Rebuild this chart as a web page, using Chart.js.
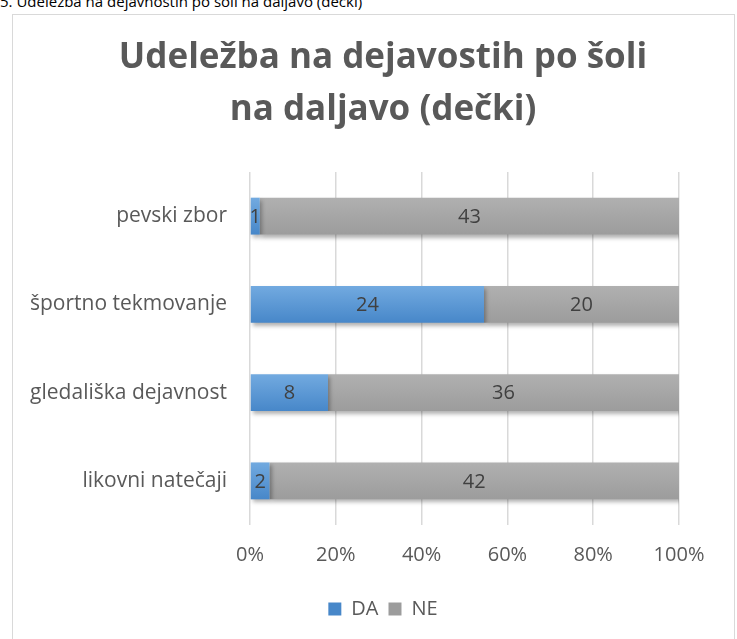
<!DOCTYPE html>
<html><head><meta charset="utf-8">
<script src="https://cdn.jsdelivr.net/npm/chart.js@4.4.1/dist/chart.umd.min.js"></script>
<style>
html,body{margin:0;padding:0;background:#fff;width:737px;height:639px;overflow:hidden;}
#cap{position:absolute;left:0;top:-9px;font:15px 'Open Sans',sans-serif;color:#000;white-space:nowrap;}
#box{position:absolute;left:12px;top:14px;width:721px;height:700px;border:1px solid #d9d9d9;}
#wrap{position:absolute;left:0;top:0;width:737px;height:639px;}
</style></head><body>
<div id="cap">5. Udeležba na dejavnostih po šoli na daljavo (dečki)</div>
<div id="box"></div>
<div id="wrap"><canvas id="c" width="737" height="639"></canvas></div>
<script>
const categories = ['pevski zbor', 'športno tekmovanje', 'gledališka dejavnost', 'likovni natečaji'];
const daValues = [1, 24, 8, 2];
const neValues = [43, 20, 36, 42];
const xTickLabels = ['0%', '20%', '40%', '60%', '80%', '100%'];
const seriesNames = ['DA', 'NE'];
const titleLines = ['Udeležba na dejavostih po šoli', 'na daljavo (dečki)'];

const FONT = "'Open Sans', sans-serif";
const totals = categories.map((_, i) => daValues[i] + neValues[i]);
const daPct = daValues.map((v, i) => v / totals[i] * 100);
const nePct = neValues.map((v, i) => v / totals[i] * 100);

const CAT_PCT = 0.418;
function barFill(top, bottom, solid) {
  return function (ctx) {
    if (ctx.type !== 'data' || !ctx.chart.scales || !ctx.chart.scales.y) return solid;
    const ys = ctx.chart.scales.y;
    const c = ys.getPixelForValue(ctx.dataIndex);
    const h = (ys.height / categories.length) * CAT_PCT / 2;
    if (!isFinite(c) || !isFinite(h) || h <= 0) return solid;
    const g = ctx.chart.ctx.createLinearGradient(0, c - h, 0, c + h);
    g.addColorStop(0, top);
    g.addColorStop(1, bottom);
    return g;
  };
}

const shadowPlugin = {
  id: 'barShadow',
  beforeDatasetsDraw(chart) {
    const c = chart.ctx;
    c.save();
    c.shadowColor = 'rgba(0,0,0,0.3)';
    c.shadowBlur = 4;
    c.shadowOffsetX = 2;
    c.shadowOffsetY = 3;
  },
  afterDatasetsDraw(chart) { chart.ctx.restore(); }
};

const valueLabels = {
  id: 'valueLabels',
  afterDatasetsDraw(chart) {
    const c = chart.ctx;
    c.save();
    c.font = '20px ' + FONT;
    c.fillStyle = '#404040';
    c.textAlign = 'center';
    c.textBaseline = 'middle';
    [daValues, neValues].forEach((vals, di) => {
      chart.getDatasetMeta(di).data.forEach((el, i) => {
        c.fillText(String(vals[i]), (el.x + el.base) / 2, el.y + 1);
      });
    });
    c.restore();
  }
};

new Chart(document.getElementById('c'), {
  type: 'bar',
  data: {
    labels: categories,
    datasets: [
      { label: seriesNames[0], data: daPct, backgroundColor: barFill('#72aae0', '#4787c9', '#5b9bd5'), borderWidth: 0 },
      { label: seriesNames[1], data: nePct, backgroundColor: barFill('#b0b0b0', '#9c9c9c', '#a5a5a5'), borderWidth: 0 }
    ]
  },
  options: {
    indexAxis: 'y',
    responsive: false,
    animation: false,
    devicePixelRatio: 1,
    categoryPercentage: CAT_PCT,
    barPercentage: 1,
    layout: { padding: { left: 87, right: 58, top: 0, bottom: 10 } },
    plugins: {
      title: {
        display: true,
        text: titleLines,
        color: '#595959',
        font: { family: FONT, size: 35, weight: 'bold', lineHeight: '52px' },
        padding: { top: 32, bottom: 36 }
      },
      legend: {
        position: 'bottom',
        labels: {
          boxWidth: 13, boxHeight: 13, padding: 10,
          color: '#595959',
          font: { family: FONT, size: 20 }
        }
      },
      tooltip: { enabled: false }
    },
    scales: {
      x: {
        stacked: true, min: 0, max: 100,
        ticks: { stepSize: 20, callback: (v, i) => xTickLabels[i], color: '#595959', font: { family: FONT, size: 20 }, padding: 18 },
        grid: { color: '#d9d9d9', lineWidth: 1.5, drawTicks: false },
        border: { display: false },
        afterFit: s => { s.height = 64; }
      },
      y: {
        stacked: true,
        ticks: { color: '#595959', font: { family: FONT, size: 21 }, padding: 23 },
        grid: { display: false, drawTicks: false },
        border: { display: false },
        afterFit: s => { s.width = 163; s._computeLabelArea = () => undefined; }
      }
    }
  },
  plugins: [shadowPlugin, valueLabels]
});
</script>
</body></html>
